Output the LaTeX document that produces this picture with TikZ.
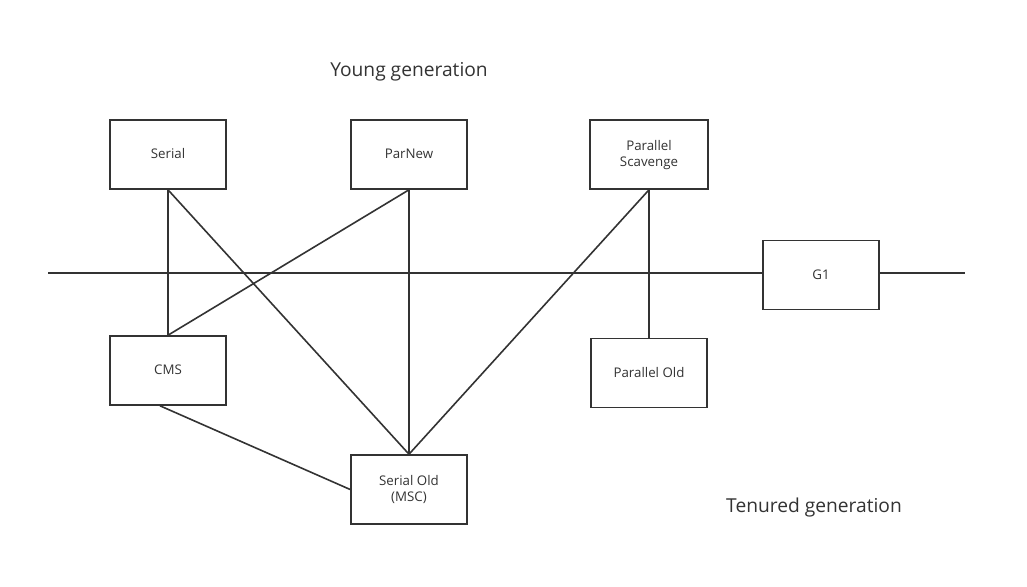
\documentclass[tikz,border=0pt]{standalone}
\usepackage{fontspec}
\setmainfont{Open Sans}
\definecolor{ln}{HTML}{333333}
\begin{document}
\begin{tikzpicture}[x=1pt,y=-1pt,
  box/.style={draw=ln,line width=1.6pt,fill=white,minimum width=116pt,minimum height=69pt,inner sep=0pt,align=center,font=\fontsize{13.3}{16.2}\selectfont,text=ln,text depth=1.5pt},
  conn/.style={draw=ln,line width=1.6pt},
  title/.style={font=\fontsize{19.2}{22}\selectfont,text=ln}]
\useasboundingbox (0,0) rectangle (1027,586);
\coordinate (hl) at (48,273);
\coordinate (hr) at (965,273);
\draw[conn] (hl) -- (hr);
\node[box] (serial) at (168,154.5) {Serial};
\node[box] (parnew) at (409,154.5) {ParNew};
\node[box,minimum width=118pt] (ps) at (649,154.5) {Parallel\\Scavenge};
\node[box] (g1) at (821,275) {G1};
\node[box] (cms) at (168,370.5) {CMS};
\node[box] (po) at (649,373) {Parallel Old};
\node[box] (so) at (409,489.5) {Serial Old\\(MSC)};
\node[title] (young) at (409,71.5) {Young generation};
\node[title] (tenured) at (814,507.5) {Tenured generation};
\draw[conn] (serial.south) -- (cms.north);
\draw[conn] (serial.south) -- (so.north);
\draw[conn] (parnew.south) -- (cms.north);
\draw[conn] (parnew.south) -- (so.north);
\draw[conn] (ps.south) -- (so.north);
\draw[conn] (ps.south) -- (po.north);
\draw[conn] ([xshift=-8pt]cms.south) -- (so.west);
\end{tikzpicture}
\end{document}
